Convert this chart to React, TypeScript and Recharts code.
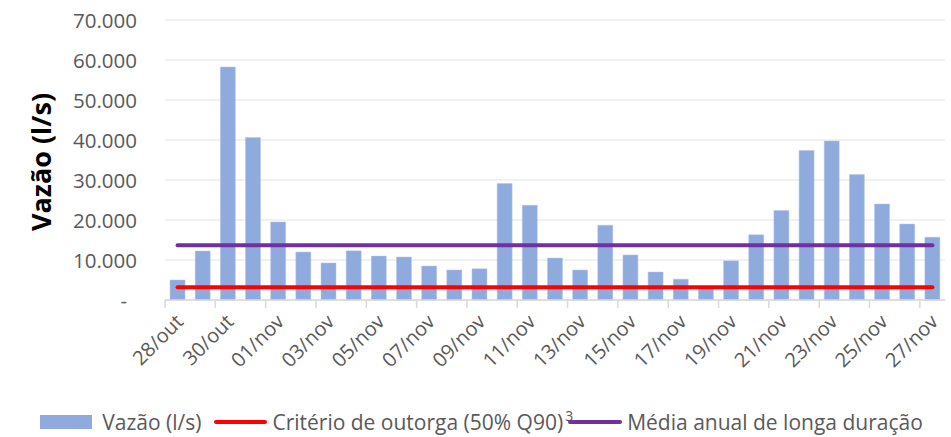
import { ComposedChart, Bar, XAxis, YAxis, CartesianGrid, ReferenceLine, Legend } from "recharts";

const dias = [
  "28/out", "29/out", "30/out", "31/out",
  "01/nov", "02/nov", "03/nov", "04/nov", "05/nov", "06/nov", "07/nov", "08/nov", "09/nov",
  "10/nov", "11/nov", "12/nov", "13/nov", "14/nov", "15/nov", "16/nov", "17/nov", "18/nov",
  "19/nov", "20/nov", "21/nov", "22/nov", "23/nov", "24/nov", "25/nov", "26/nov", "27/nov",
];

const vazao = [
  5000, 12250, 58250, 40600, 19500, 12000, 9250, 12300, 11000, 10750, 8500, 7500, 7800,
  29100, 23700, 10500, 7500, 18700, 11250, 7000, 5200, 3300, 9800, 16300, 22400, 37400,
  39750, 31400, 24000, 19000, 15700,
];

const criterioOutorga = 3170;
const mediaLongaDuracao = 13670;

const yTicks = [0, 10000, 20000, 30000, 40000, 50000, 60000, 70000];

const data = dias.map((dia, i) => ({ dia, vazao: vazao[i] }));

const FONT = "'Open Sans', sans-serif";
const GRAY = "#595959";

const fmt = (v: number) => (v === 0 ? "-" : String(v).replace(/\B(?=(\d{3})+(?!\d))/g, "."));

const YTick = ({ x, y, payload }: any) => (
  <text
    x={payload.value === 0 ? x - 10 : x}
    y={y}
    textAnchor="end"
    dominantBaseline="central"
    fontFamily={FONT}
    fontSize={20.5}
    fill={GRAY}
  >
    {fmt(payload.value)}
  </text>
);

const XTick = ({ x, y, payload }: any) => {
  const off = payload.offset ?? 12.58;
  return (
    <g>
      <line x1={x - off} x2={x - off} y1={y} y2={y + 8} stroke="#D9D9D9" strokeWidth={1.5} />
      <text
        transform={`translate(${x + 7},${y + 23}) rotate(-45)`}
        textAnchor="end"
        fontFamily={FONT}
        fontSize={20}
        fill={GRAY}
      >
        {payload.value}
      </text>
    </g>
  );
};

const YTitle = ({ viewBox }: any) => {
  const cy = viewBox.y + viewBox.height / 2 + 2;
  return (
    <text
      transform={`translate(40,${cy}) rotate(-90)`}
      textAnchor="middle"
      dominantBaseline="central"
      fontFamily={FONT}
      fontSize={27}
      fontWeight={700}
      fill="#000"
    >
      Vazão (l/s)
    </text>
  );
};

const renderLegend = () => (
  <div
    style={{
      display: "flex",
      justifyContent: "center",
      alignItems: "center",
      fontFamily: FONT,
      fontSize: 21,
      color: GRAY,
      whiteSpace: "nowrap",
      lineHeight: "24px",
      height: 24,
      paddingLeft: 12,
    }}
  >
    <span style={{ display: "inline-block", width: 52, height: 14, background: "#8FAADC", marginRight: 10 }} />
    <span>Vazão (l/s)</span>
    <span style={{ display: "inline-block", width: 53, height: 4, borderRadius: 2, background: "#FF0000", margin: "0 5px 0 13px" }} />
    <span>Critério de outorga (50% Q90)</span>
    <span style={{ fontSize: 14, alignSelf: "flex-start", lineHeight: "12px", marginLeft: 2 }}>3</span>
    <span style={{ display: "inline-block", width: 54, height: 4, borderRadius: 2, background: "#7030A0", margin: "0 5px 0 -5px" }} />
    <span>Média anual de longa duração</span>
  </div>
);

export default function App() {
  return (
    <div>
      <style>{`body{margin:0}`}</style>
      <ComposedChart width={951} height={437} data={data} margin={{ top: 20, right: 6, bottom: 0, left: 0 }} barCategoryGap="20%">
        <CartesianGrid vertical={false} stroke="#EDEDED" strokeWidth={1.5} />
        <XAxis
          dataKey="dia"
          interval={1}
          height={113}
          tickLine={false}
          tickSize={0}
          tickMargin={0}
          axisLine={{ stroke: "#D9D9D9", strokeWidth: 1.5 }}
          tick={<XTick />}
        />
        <YAxis
          width={165}
          domain={[0, 70000]}
          ticks={yTicks}
          axisLine={false}
          tickLine={false}
          tickSize={0}
          tickMargin={28}
          tick={<YTick />}
          label={{ content: <YTitle /> }}
        />
        <Bar dataKey="vazao" fill="#8FAADC" stroke="#B4C7E7" strokeWidth={0.5} isAnimationActive={false} />
        <ReferenceLine
          segment={[{ x: dias[0], y: mediaLongaDuracao }, { x: dias[dias.length - 1], y: mediaLongaDuracao }]}
          stroke="#7030A0"
          strokeWidth={4}
          strokeLinecap="round"
        />
        <ReferenceLine
          segment={[{ x: dias[0], y: criterioOutorga }, { x: dias[dias.length - 1], y: criterioOutorga }]}
          stroke="#FF0000"
          strokeWidth={4}
          strokeLinecap="round"
        />
        <Legend
          verticalAlign="bottom"
          height={24}
          content={renderLegend}
          wrapperStyle={{ top: 410, bottom: "auto", left: 0, width: 951 }}
        />
      </ComposedChart>
    </div>
  );
}
